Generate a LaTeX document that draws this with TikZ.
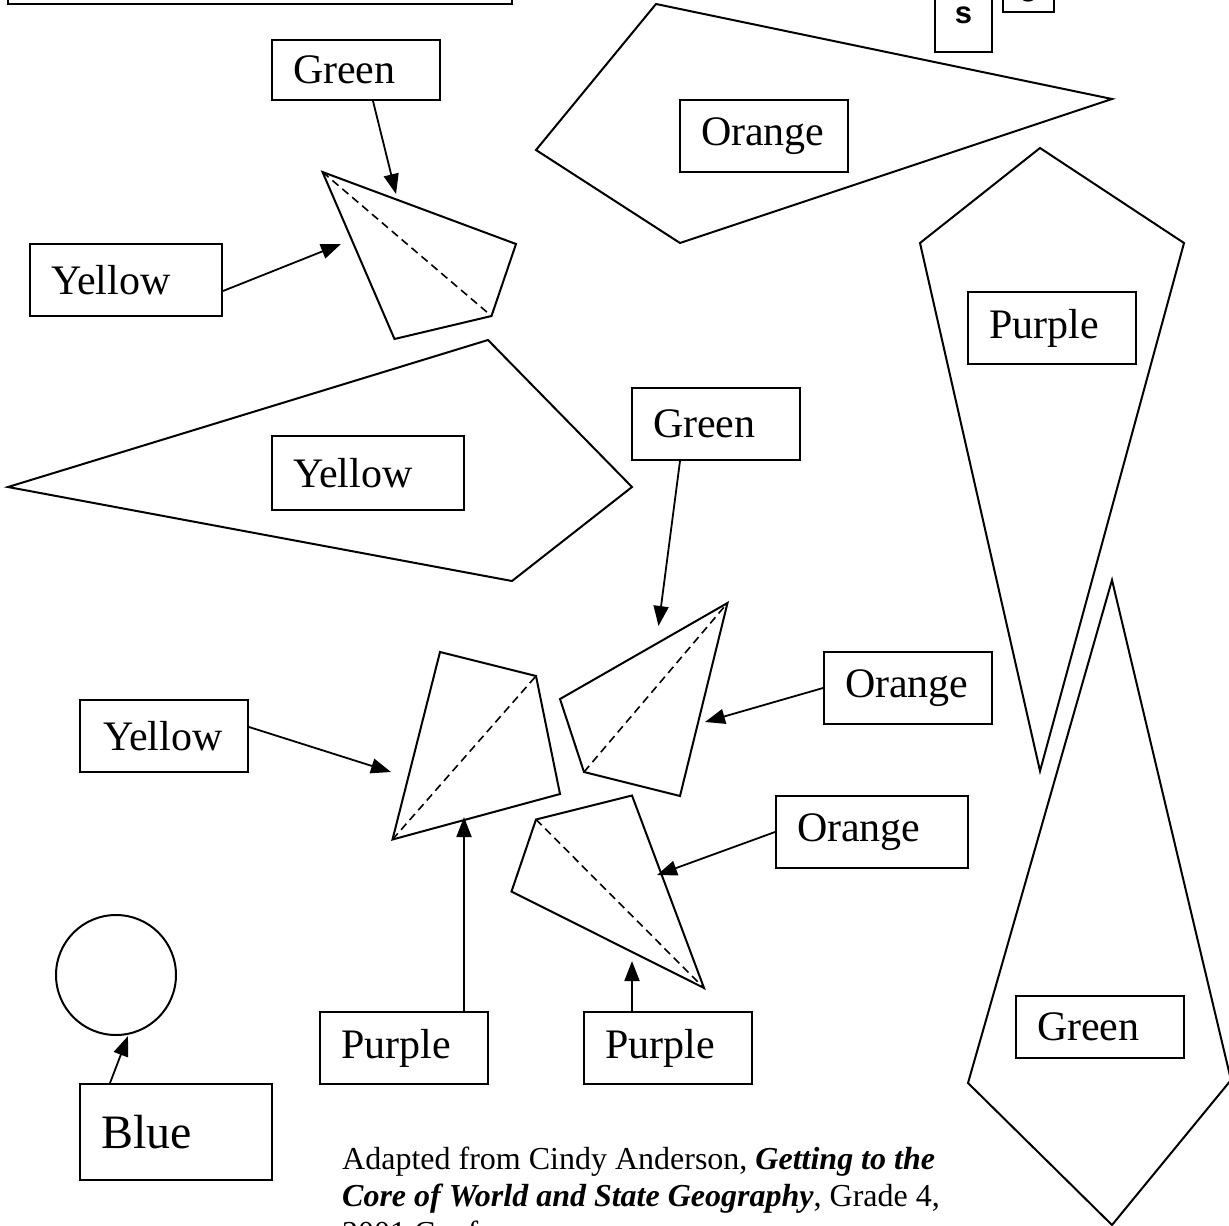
\documentclass[tikz,border=0pt]{standalone}
\usepackage{fontspec}
\setmainfont{Liberation Serif}
\newfontfamily\arialfont{Liberation Sans}
\usetikzlibrary{arrows.meta}
\begin{document}
\begin{tikzpicture}[x=1pt,y=-1pt,
  piece/.style={draw, line width=2pt, line join=miter},
  diag/.style={draw, line width=1.6pt, dash pattern=on 8pt off 5pt},
  lab/.style={draw, fill=white, line width=2pt, font=\fontsize{42}{50}\selectfont,
    inner xsep=21pt, inner ysep=0pt, align=left, text width=126pt, minimum height=72pt},
  widelab/.style={lab, text width=150pt},
  tiny/.style={draw, fill=white, line width=2pt, font=\arialfont\bfseries\fontsize{31}{34}\selectfont,
    inner sep=0pt},
  conn/.style={line width=1.8pt, -{Triangle[length=20pt,width=15pt]}}]
\useasboundingbox (0,0) rectangle (1229,1226);

% cut-off box at top left
\draw[line width=2pt] (8,-60) rectangle (512,4);
% small boxes at top right
\node[tiny, minimum width=57pt, minimum height=74pt] (sbox) at (963.5,15) {s};
\node[tiny, minimum width=51pt, minimum height=44pt] (gbox) at (1028.5,-10) {g};

% large shapes
\draw[piece] (656,4) -- (1112,99) -- (680,243) -- (536,150) -- cycle;
\draw[piece] (488,340) -- (632,487) -- (512,581) -- (8,487) -- cycle;
\draw[piece] (1040,148) -- (1184,243) -- (1040,771) -- (920,243) -- cycle;
\draw[piece] (1112,580) -- (1231,1080) -- (1112,1225) -- (968,1083) -- cycle;
\draw[piece] (116,975) circle[radius=60];

% small pieces with dashed diagonals
\draw[piece] (322.5,172) -- (516,244) -- (491.5,316) -- (394.5,339) -- cycle;
\draw[diag] (322.5,172) -- (491.5,316);
\draw[piece] (440,652) -- (536,676) -- (560,794) -- (392.5,839.5) -- cycle;
\draw[diag] (392.5,839.5) -- (536,676);
\draw[piece] (727.5,603) -- (680,796) -- (584,772) -- (560,699) -- cycle;
\draw[diag] (584,772) -- (727.5,603);
\draw[piece] (536,819.5) -- (632,795.5) -- (704,988) -- (511.5,891.5) -- cycle;
\draw[diag] (536,819.5) -- (704,988);

% labels
\node[lab, minimum height=60pt] (green1) at (356,70) {Green};
\node[lab] (orange1) at (764,136) {Orange};
\node[widelab] (yellow1) at (126,280) {Yellow};
\node[lab] (purple1) at (1052,328) {Purple};
\node[widelab, minimum height=74pt] (yellow2) at (368,473) {Yellow};
\node[lab] (green2) at (716,424) {Green};
\node[lab] (orange2) at (908,688) {Orange};
\node[lab, inner xsep=23pt, text width=122pt] (yellow3) at (164,736) {Yellow};
\node[widelab] (orange3) at (872,832) {Orange};
\node[lab] (purple2) at (404,1048) {Purple};
\node[lab] (purple3) at (668,1048) {Purple};
\node[widelab, minimum height=96pt, font=\fontsize{48}{56}\selectfont] (blue) at (176,1132) {Blue};
\node[lab, minimum height=62pt] (green3) at (1100,1027) {Green};

% arrow tips
\coordinate (tg1) at (396,194);
\coordinate (ty1) at (341,244);
\coordinate (tg2) at (658.5,626);
\coordinate (to2) at (705,722);
\coordinate (ty3) at (391,772);
\coordinate (to3) at (657,875);
\coordinate (tp2) at (464,817);
\coordinate (tp3) at (632,961);
\coordinate (tb) at (128,1036);

\draw[conn] ([xshift=17pt]green1.south) -- (tg1);
\draw[conn] ([yshift=-11pt]yellow1.east) -- (ty1);
\draw[conn] ([xshift=-36pt]green2.south) -- (tg2);
\draw[conn] (orange2.west) -- (to2);
\draw[conn] ([yshift=9pt]yellow3.east) -- (ty3);
\draw[conn] (orange3.west) -- (to3);
\draw[conn] ([xshift=60pt]purple2.north) -- (tp2);
\draw[conn] ([xshift=-36pt]purple3.north) -- (tp3);
\draw[conn] ([xshift=-66pt]blue.north) -- (tb);

% citation (last line runs off the bottom edge, as in the reference)
\node[anchor=base west, align=left, inner sep=0pt, font=\fontsize{32}{37}\selectfont] (cite) at (342,1243)
 {Adapted from Cindy Anderson, \textbf{\textit{Getting to the}}\\
  \textbf{\textit{Core of World and State Geography}}, Grade 4,\\
  2001 Conference};
\end{tikzpicture}
\end{document}
